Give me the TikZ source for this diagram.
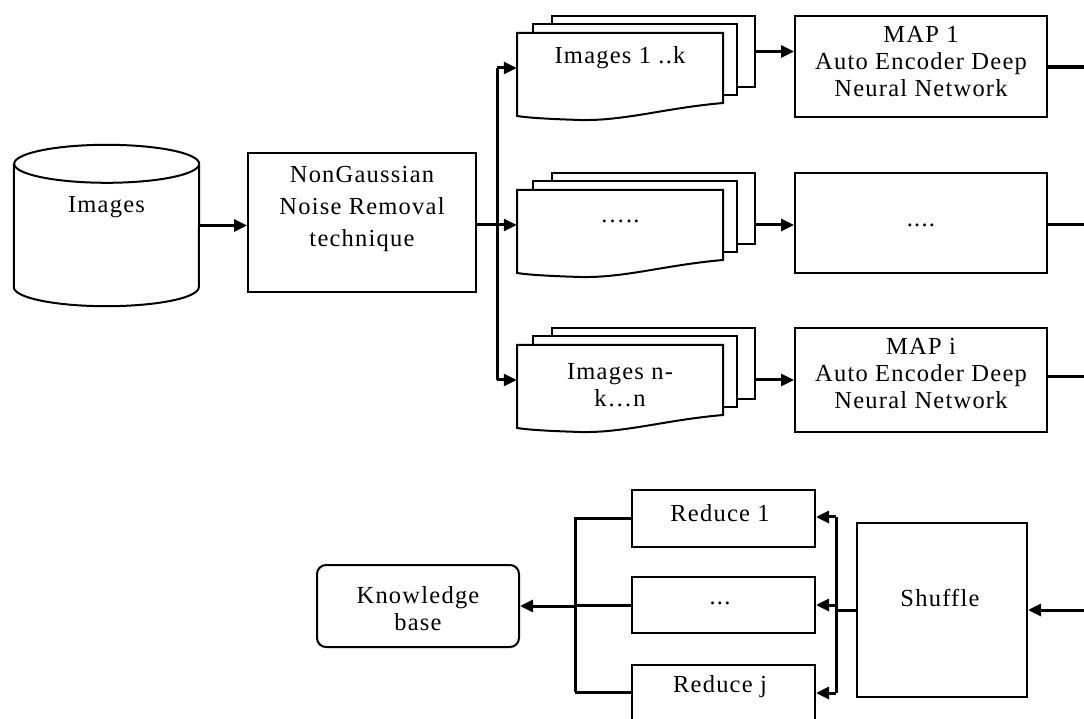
\documentclass[tikz,border=0pt]{standalone}
\usepackage{fontspec}
\setmainfont{Liberation Serif}[LetterSpace=5]
\usetikzlibrary{arrows.meta}

% one stack of three sheets: #1 name, #2 height of the incoming arrow,
% #3 height of the caption, #4 caption
\newcommand\sheetstack[4]{%
  \node[sheet, minimum width=203pt, minimum height=71pt] (#1b) at (653.5,#2+16.5) {};
  \node[sheet, minimum width=204pt, minimum height=71pt] (#1m) at (635,#2+8.5) {};
  \node[inner sep=0pt, minimum width=206pt, minimum height=70pt] (#1) at (620,#2) {};
  \draw[edge, fill=white] (517,#2+35) -- (723,#2+35) -- (723,#2-35)
    .. controls (665,#2-40) and (625,#2-53) .. (580,#2-52)
    .. controls (550,#2-51) and (530,#2-50) .. (517,#2-48) -- cycle;
  \node[txt] (#1t) at (620,#3) {#4};
}

\begin{document}
\begin{tikzpicture}[x=1pt,y=1pt,
  edge/.style={line width=2pt},
  sheet/.style={draw, line width=2pt, fill=white, inner sep=0pt},
  box/.style={draw, line width=2pt, fill=white, inner sep=0pt},
  txt/.style={inner sep=0pt, align=center, font=\fontsize{24.5}{27}\selectfont},
  link/.style={line width=3pt},
  arr/.style={line width=3pt, -{Triangle[length=13pt,width=12pt]}},
]
\fill[white] (0,0) rectangle (1084,718);
\useasboundingbox (0,0) rectangle (1084,718);

% ---- image store ----
\node[inner sep=0pt, minimum width=185pt, minimum height=123pt] (db) at (106.5,492.5) {};
\draw[edge] (db.north west) -- (db.south west)
  arc[start angle=180, end angle=360, x radius=92.5pt, y radius=19pt]
  -- (db.north east)
  arc[start angle=0, end angle=180, x radius=92.5pt, y radius=19pt]
  arc[start angle=180, end angle=360, x radius=92.5pt, y radius=19pt];
\node[txt] (dbt) at (106.5,511) {Images};

% ---- noise removal ----
\node[box, minimum width=228pt, minimum height=139pt] (noise) at (362,495.5) {};
\node[txt, font=\fontsize{24.5}{32}\selectfont] (noiset) at (362,509) {NonGaussian\\Noise Removal\\technique};
\draw[arr] (db.east) -- (db.east -| noise.west);

% ---- split into image batches ----
\coordinate (st) at (497,650);
\coordinate (sb) at (497,338);
\draw[link] (noise.east |- 0,493) -- (497,493);
\draw[link] (st) -- (sb);

\sheetstack{s1}{650}{660}{Images 1 ..k}
\sheetstack{s2}{493}{497}{…..}
\sheetstack{s3}{338}{333}{Images n-\\k…n}

\draw[arr] (st) -- (s1.west);
\draw[arr] (497,493) -- (s2.west);
\draw[arr] (sb) -- (s3.west);

% ---- map stage ----
\node[box, minimum width=252pt, minimum height=101pt] (m1) at (921,651.5) {};
\node[box, minimum width=252pt, minimum height=100pt] (m2) at (921,495) {};
\node[box, minimum width=252pt, minimum height=104pt] (m3) at (921,338) {};
\node[txt] (m1t) at (921,656) {MAP 1\\Auto Encoder Deep\\Neural Network};
\node[txt] (m2t) at (921,493) {....};
\node[txt] (m3t) at (921,344) {MAP i\\Auto Encoder Deep\\Neural Network};

\draw[arr] (s1b.east) -- (s1b.east -| m1.west);
\draw[arr] (s2b.east |- 0,493) -- (m2.west |- 0,493);
\draw[arr] (s3b.east |- 0,338) -- (m3.west |- 0,338);

\coordinate (o1) at (1084,651);
\coordinate (o2) at (1084,493);
\coordinate (o3) at (1084,341);
\draw[line width=4pt] (m1.east |- o1) -- (o1);
\draw[link] (m2.east |- o2) -- (o2);
\draw[link] (m3.east |- o3) -- (o3);

% ---- shuffle and reduce ----
\node[box, minimum width=170pt, minimum height=174pt] (sh) at (942,108) {};
\node[txt] (sht) at (940,120) {Shuffle};
\coordinate (in) at (1084,108);
\draw[arr] (in) -- (sh.east);

\node[box, minimum width=183pt, minimum height=57pt] (r1) at (723.5,199.5) {};
\node[box, minimum width=183pt, minimum height=56pt] (r2) at (723.5,113) {};
\node[box, minimum width=183pt, minimum height=57pt] (r3) at (723.5,24.5) {};
\node[txt] (r1t) at (720,205) {Reduce 1};
\node[txt] (r2t) at (720,115) {...};
\node[txt] (r3t) at (720,31) {Reduce j};

\coordinate (rt) at (836,201);
\coordinate (rb) at (836,25);
\draw[link] (sh.west) -- (sh.west -| rt);
\draw[link] (rt) -- (rb);
\draw[arr] (rt) -- (rt -| r1.east);
\draw[arr] (rt |- r2.east) -- (r2.east);
\draw[arr] (rb) -- (rb -| r3.east);

% ---- knowledge base ----
\node[box, rounded corners=9pt, minimum width=202pt, minimum height=82pt] (kb) at (418,112) {};
\node[txt] (kbt) at (418,109) {Knowledge\\base};

\coordinate (kt) at (575,201);
\coordinate (kbb) at (575,26);
\draw[link] (kt) -- (kbb);
\draw[link] (r1.west) -- (r1.west -| kt);
\draw[link] (r2.west) -- (r2.west -| kt);
\draw[link] (r3.west |- kbb) -- (kbb);
\draw[arr] (kt |- kb.east) -- (kb.east);
\end{tikzpicture}
\end{document}
